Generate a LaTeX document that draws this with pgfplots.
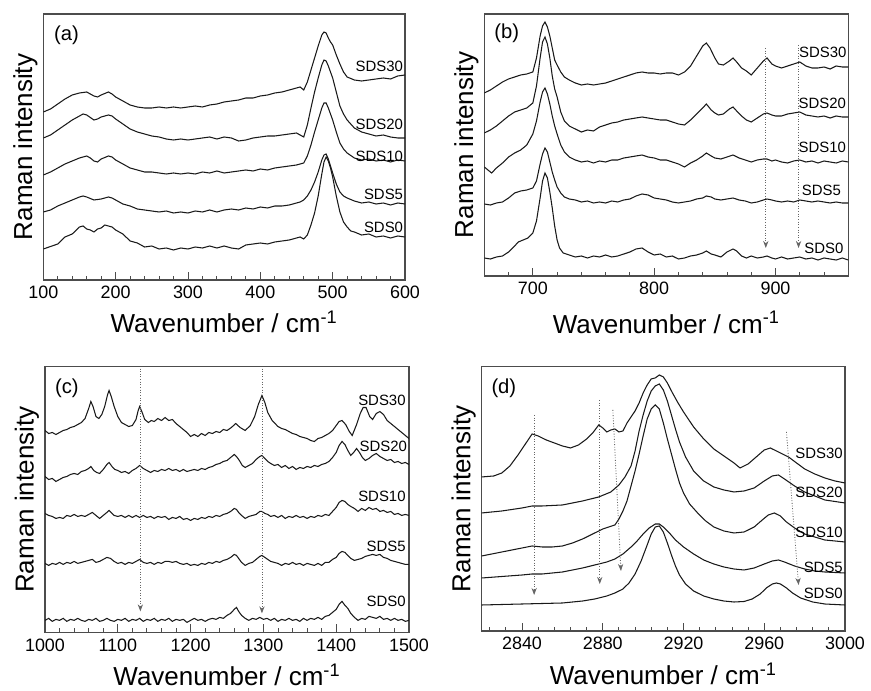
\documentclass[border=0pt]{standalone}
\usepackage{fontspec}
\setmainfont{Liberation Sans}
\usepackage{pgfplots}
\pgfplotsset{compat=1.18}
\usetikzlibrary{arrows.meta}

\pgfplotscreateplotcyclelist{ramanlist}{black!90, line width=0.6pt, mark=none\\}
\pgfplotsset{
  raman/.style={
    scale only axis,
    axis line style={draw=black!70, line width=0.6pt},
    tick style={draw=black!70, line width=0.5pt},
    xtick pos=left,
    tick align=inside,
    ytick=\empty,
    major tick length=4.5pt,
    minor tick length=2.3pt,
    ymin=0,
    ticklabel style={font=\fontsize{10.2}{12}\selectfont},
    /pgf/number format/assume math mode=true,
    /pgf/number format/1000 sep={},
    scaled x ticks=false,
    xlabel={Wavenumber / cm\textsuperscript{-1}},
    ylabel={Raman intensity},
    label style={font=\fontsize{14.8}{17}\selectfont},
    ylabel style={at={(axis description cs:-0.031,0.5)}, anchor=base},
    cycle list name=ramanlist,
  },
}
\tikzset{
  paneltag/.style={font=\fontsize{11.5}{13}\selectfont},
  lab/.style={font=\fontsize{8.5}{10}\selectfont, inner sep=0.5pt, anchor=east},
  arr/.style={densely dotted, black!60, line width=0.5pt, -{Stealth[length=4pt,width=3pt]}},
}

\begin{document}
\begin{tikzpicture}
\useasboundingbox (0,0) rectangle (17.42,13.8);

% (a)
\begin{axis}[raman, at={(0.866cm,8.2cm)}, anchor=south west,
  width=7.234cm, height=5.32cm, xmin=100, xmax=600, ymax=266,
  xtick={100,200,...,600}, minor xtick={100,120,...,600},
  xlabel style={at={(axis description cs:0.5,-0.199)}, anchor=base}]
\addplot coordinates {(100,31) (110,33.5) (120,36) (130,43) (140,46) (150,53) (155,54) (160,51) (165,50) (170,48) (175,51) (180,52) (185,55) (190,54) (195,53) (200,50) (210,46) (220,39) (230,37) (240,33) (250,34) (260,31) (270,32) (280,30) (290,32) (300,31) (310,33) (320,32) (330,34) (340,32) (350,34) (360,32) (370,31) (380,35) (390,36) (400,37) (410,36) (420,38) (430,39) (440,40) (450,42) (455,43) (460,41) (465,45) (470,55) (475,67) (480,84) (485,106) (488,118) (491,123) (494,119) (497,112) (500,103) (505,84) (510,68) (515,58) (520,53) (525,49) (530,48) (540,45) (550,46) (560,43) (570,44) (580,42) (590,44) (600,43)};
\addplot coordinates {(100,68) (110,70) (120,74) (130,77) (140,80) (150,83) (155,84) (160,83) (170,80) (180,81) (190,83) (195,82) (200,80) (210,76) (220,74) (230,71) (240,70) (250,69) (260,68) (270,69) (280,67) (290,68) (300,67) (310,69) (320,68) (330,70) (340,68) (350,70) (360,71) (370,70) (380,72) (390,71) (400,73) (410,72) (420,74) (430,74) (440,75) (450,77) (455,78) (460,80) (465,84) (470,90) (475,98) (480,108) (485,120) (488,125) (491,126) (494,121) (497,114) (500,107) (505,96) (510,88) (515,84) (520,82) (530,79) (540,77) (550,78) (560,76) (570,77) (580,75) (590,77) (600,76)};
\addplot coordinates {(100,105) (110,108) (120,112) (130,116) (140,119) (150,122) (160,124) (165,122) (170,119) (175,118) (180,121) (190,124) (195,123) (200,120) (210,116) (220,112) (230,110) (240,108) (250,108) (260,107) (270,106) (280,107) (290,106) (300,107) (310,106) (320,108) (330,107) (340,109) (350,107) (360,108) (370,109) (380,110) (390,109) (400,111) (410,110) (420,112) (430,113) (440,114) (450,115) (455,116) (460,117) (465,124) (470,135) (475,148) (480,160) (485,172) (488,177) (491,177) (494,172) (497,166) (500,160) (505,148) (510,137) (515,131) (520,127) (530,122) (540,120) (550,121) (560,119) (570,120) (580,118) (590,120) (600,119)};
\addplot coordinates {(100,142) (110,145) (120,150) (130,155) (140,160) (150,164) (155,166) (160,165) (170,160) (175,161) (180,163) (190,165) (195,164) (200,161) (210,156) (220,151) (230,148) (240,146) (250,144) (260,143) (270,141) (280,140) (290,141) (300,140) (310,141) (320,142) (330,143) (340,141) (350,143) (360,142) (370,139) (380,140) (390,142) (400,143) (410,144) (420,144) (430,145) (440,146) (450,147) (455,145) (460,143) (465,155) (470,172) (475,188) (480,202) (485,215) (488,220) (491,219) (494,214) (497,208) (500,202) (505,188) (510,174) (515,166) (520,160) (530,152) (540,148) (550,146) (560,144) (570,145) (580,143) (590,142) (600,142)};
\addplot coordinates {(100,168) (110,171) (120,176) (130,181) (140,185) (150,187) (160,188) (165,186) (170,184) (175,183) (180,185) (190,188) (195,186) (200,183) (210,179) (220,175) (230,173) (240,172) (250,172) (260,173) (270,172) (280,173) (290,172) (300,173) (310,174) (320,173) (330,175) (340,176) (350,178) (360,179) (370,180) (380,182) (390,182) (400,184) (410,185) (420,187) (430,188) (440,190) (450,192) (455,193) (460,190) (465,198) (470,210) (475,222) (480,234) (485,245) (488,248) (491,247) (494,242) (497,238) (500,235) (505,225) (510,216) (515,208) (520,203) (530,200) (540,199) (550,200) (560,201) (570,202) (580,201) (590,204) (600,205)};
\node[paneltag] at (axis cs:132,245) {(a)};
\node[lab] at (axis cs:599,214) {SDS30};
\node[lab] at (axis cs:599,156) {SDS20};
\node[lab] at (axis cs:599,124) {SDS10};
\node[lab] at (axis cs:599,86) {SDS5};
\node[lab] at (axis cs:599,53) {SDS0};
\end{axis}

% (b)
\begin{axis}[raman, at={(9.686cm,8.28cm)}, anchor=south west,
  width=7.28cm, height=5.24cm, xmin=660, xmax=960, ymax=262,
  xtick={700,800,900}, minor xtick={660,680,...,960},
  xlabel style={at={(axis description cs:0.5,-0.218)}, anchor=base}]
\addplot coordinates {(660,18) (665,17) (670,19) (675,20) (680,24) (685,30) (688,34) (692,36) (696,38) (700,43) (703,55) (706,78) (708,95) (710,103) (712,98) (714,84) (716,68) (718,50) (720,36) (722,28) (725,23) (730,21) (735,19) (740,20) (745,18) (750,20) (755,19) (760,21) (765,19) (770,20) (775,22) (780,24) (785,27) (790,28) (795,24) (800,21) (805,22) (810,19) (815,20) (820,17) (825,18) (830,20) (835,21) (840,23) (843,25) (847,22) (850,21) (855,19) (860,24) (865,27) (868,25) (872,20) (876,18) (880,20) (885,18) (890,19) (893,20) (897,18) (900,17) (905,19) (910,17) (915,18) (920,19) (925,17) (930,18) (935,16) (940,18) (945,17) (950,16) (955,18) (960,16)};
\addplot coordinates {(660,72) (665,71) (670,73) (675,74) (680,78) (685,83) (690,85) (695,86) (700,88) (703,95) (706,112) (708,122) (710,128) (712,124) (714,114) (716,104) (718,96) (720,89) (723,83) (726,79) (730,77) (735,76) (740,74) (745,75) (750,73) (755,74) (760,73) (765,75) (770,74) (775,76) (780,77) (785,80) (790,82) (795,81) (800,78) (805,77) (810,76) (815,74) (820,73) (825,74) (830,75) (835,77) (840,78) (843,80) (847,79) (850,77) (855,76) (860,77) (865,78) (870,76) (875,75) (880,73) (885,74) (890,76) (893,77) (897,76) (900,75) (905,74) (910,75) (915,74) (920,76) (925,75) (930,74) (935,75) (940,74) (945,73) (950,74) (955,73) (960,73)};
\addplot coordinates {(660,109) (663,106) (666,103) (670,108) (675,113) (680,119) (685,123) (690,126) (695,131) (700,142) (703,155) (706,174) (708,184) (710,188) (712,182) (714,172) (716,160) (718,150) (720,142) (723,131) (726,124) (730,119) (735,116) (740,114) (745,115) (750,113) (755,115) (760,114) (765,116) (770,116) (775,118) (780,119) (785,120) (790,121) (795,119) (800,118) (805,116) (810,116) (815,114) (820,112) (825,109) (830,113) (835,116) (840,120) (843,123) (847,120) (850,118) (855,117) (860,119) (865,121) (870,118) (875,116) (880,114) (885,116) (890,117) (893,117) (897,115) (900,116) (905,114) (910,113) (915,115) (920,116) (925,114) (930,115) (935,113) (940,115) (945,114) (950,113) (955,115) (960,114)};
\addplot coordinates {(660,143) (665,146) (670,150) (675,155) (680,160) (685,164) (690,166) (695,168) (700,173) (703,190) (706,218) (708,234) (710,239) (712,232) (714,218) (716,200) (718,187) (720,179) (723,164) (726,155) (730,150) (735,147) (740,144) (745,146) (750,145) (755,149) (760,151) (765,153) (770,154) (775,156) (780,157) (785,158) (790,159) (795,158) (800,157) (805,156) (810,156) (815,154) (820,152) (825,151) (830,156) (835,162) (840,168) (843,172) (847,166) (850,163) (853,161) (857,162) (862,167) (865,169) (868,165) (872,160) (876,156) (880,154) (885,158) (890,162) (893,163) (897,161) (900,160) (905,160) (910,162) (915,163) (920,164) (925,161) (930,160) (935,159) (940,160) (945,158) (950,160) (955,159) (960,159)};
\addplot coordinates {(660,183) (665,186) (670,190) (675,194) (680,197) (685,199) (690,201) (695,202) (700,204) (703,218) (706,240) (708,250) (710,254) (712,249) (714,240) (716,228) (718,216) (720,211) (723,204) (726,199) (730,196) (735,193) (740,191) (745,192) (750,191) (755,192) (760,193) (765,195) (770,197) (775,199) (780,201) (785,203) (790,204) (795,203) (800,203) (805,202) (810,203) (815,203) (820,201) (825,204) (830,210) (835,220) (840,230) (843,233) (846,228) (850,218) (853,212) (857,211) (862,215) (865,218) (868,214) (872,208) (876,205) (880,201) (885,208) (890,215) (893,218) (897,212) (900,210) (905,208) (910,210) (915,212) (920,214) (925,210) (930,208) (935,208) (940,209) (945,207) (950,210) (955,209) (960,209)};
\draw[arr] (axis cs:892,228) -- (axis cs:892,28);
\draw[arr] (axis cs:919,231) -- (axis cs:919,28);
\node[paneltag] at (axis cs:678.5,243) {(b)};
\node[lab] at (axis cs:959.5,224) {SDS30};
\node[lab] at (axis cs:959,173) {SDS20};
\node[lab] at (axis cs:959,129) {SDS10};
\node[lab] at (axis cs:955,86) {SDS5};
\node[lab] at (axis cs:957,28) {SDS0};
\end{axis}

% (c)
\begin{axis}[raman, at={(0.9cm,1.153cm)}, anchor=south west,
  width=7.28cm, height=5.31cm, xmin=1000, xmax=1500, ymax=265.7,
  xtick={1000,1100,...,1500}, minor xtick={1000,1020,...,1500},
  xlabel style={at={(axis description cs:0.5,-0.2)}, anchor=base}]
\addplot coordinates {(1000,12) (1005,14) (1010,11) (1015,13) (1020,12) (1025,14) (1030,11) (1035,13) (1040,12) (1045,14) (1050,12) (1055,11) (1060,13) (1065,12) (1070,14) (1075,11) (1080,12) (1085,14) (1090,12) (1095,11) (1100,13) (1105,12) (1110,14) (1115,11) (1120,13) (1125,12) (1130,14) (1135,11) (1140,13) (1145,12) (1150,14) (1155,11) (1160,13) (1165,12) (1170,14) (1175,11) (1180,13) (1185,12) (1190,13) (1195,10) (1200,12) (1205,14) (1210,12) (1215,13) (1220,11) (1225,13) (1230,14) (1235,13) (1240,15) (1245,14) (1250,17) (1255,19) (1260,23) (1263,25) (1266,21) (1270,17) (1275,14) (1280,12) (1285,14) (1290,13) (1295,15) (1300,13) (1305,14) (1310,12) (1315,14) (1320,11) (1325,13) (1330,12) (1335,14) (1340,12) (1345,13) (1350,11) (1355,14) (1360,12) (1365,14) (1370,13) (1375,15) (1380,13) (1385,16) (1390,17) (1395,20) (1400,23) (1404,28) (1408,31) (1412,27) (1416,24) (1420,19) (1425,15) (1430,12) (1435,14) (1440,13) (1445,16) (1450,15) (1455,14) (1460,16) (1465,13) (1470,14) (1475,12) (1480,14) (1485,12) (1490,13) (1495,11) (1500,12)};
\addplot coordinates {(1000,69) (1005,67) (1010,69) (1015,68) (1020,70) (1025,68) (1030,70) (1035,69) (1040,71) (1045,69) (1050,70) (1055,71) (1060,72) (1065,73) (1070,70) (1075,71) (1080,73) (1085,75) (1090,74) (1095,71) (1100,69) (1105,70) (1110,68) (1115,70) (1120,69) (1125,71) (1130,73) (1135,70) (1140,69) (1145,70) (1150,68) (1155,70) (1160,69) (1165,71) (1170,71) (1175,70) (1180,71) (1185,69) (1190,68) (1195,69) (1200,67) (1205,68) (1210,67) (1215,69) (1220,68) (1225,70) (1230,69) (1235,71) (1240,70) (1245,72) (1250,73) (1255,75) (1260,78) (1263,77) (1266,74) (1270,70) (1275,67) (1280,69) (1285,70) (1290,73) (1295,76) (1298,77) (1302,75) (1306,73) (1310,71) (1315,70) (1320,69) (1325,67) (1330,69) (1335,68) (1340,70) (1345,68) (1350,69) (1355,67) (1360,69) (1365,68) (1370,67) (1375,69) (1380,67) (1385,70) (1390,70) (1395,73) (1400,75) (1404,79) (1408,81) (1412,80) (1416,77) (1420,74) (1425,72) (1430,73) (1435,74) (1440,76) (1445,77) (1450,78) (1455,77) (1460,78) (1465,75) (1470,74) (1475,72) (1480,71) (1485,70) (1490,69) (1495,68) (1500,68)};
\addplot coordinates {(1000,119) (1005,117) (1010,116) (1015,114) (1020,115) (1025,114) (1030,117) (1035,116) (1040,118) (1045,116) (1050,117) (1055,116) (1060,118) (1065,120) (1070,117) (1075,114) (1080,117) (1085,120) (1088,122) (1092,119) (1095,117) (1100,116) (1105,117) (1110,115) (1115,117) (1120,115) (1125,117) (1130,115) (1135,117) (1140,115) (1145,116) (1150,114) (1155,116) (1160,115) (1165,116) (1170,113) (1175,115) (1180,114) (1185,116) (1190,113) (1195,114) (1200,112) (1205,114) (1210,113) (1215,115) (1220,114) (1225,116) (1230,115) (1235,117) (1240,116) (1245,118) (1250,119) (1255,121) (1260,124) (1263,123) (1266,120) (1270,117) (1275,114) (1280,116) (1285,117) (1290,118) (1295,121) (1298,121) (1302,119) (1306,118) (1310,116) (1315,117) (1320,115) (1325,117) (1330,114) (1335,116) (1340,115) (1345,117) (1350,115) (1355,116) (1360,114) (1365,116) (1370,115) (1375,117) (1380,116) (1385,118) (1390,117) (1395,121) (1400,125) (1404,130) (1408,132) (1412,131) (1416,128) (1420,126) (1425,124) (1430,121) (1435,124) (1440,122) (1445,125) (1450,123) (1455,124) (1460,121) (1465,122) (1470,120) (1475,121) (1480,118) (1485,119) (1490,117) (1495,118) (1500,117)};
\addplot coordinates {(1000,156) (1005,153) (1010,154) (1015,151) (1020,153) (1025,155) (1030,156) (1035,158) (1040,159) (1045,158) (1050,161) (1055,162) (1060,164) (1063,166) (1067,162) (1071,160) (1075,159) (1080,163) (1085,168) (1088,170) (1092,166) (1096,163) (1100,162) (1105,160) (1110,161) (1115,159) (1120,162) (1125,164) (1130,167) (1135,164) (1140,162) (1145,160) (1150,162) (1155,161) (1160,163) (1165,162) (1170,164) (1175,162) (1180,163) (1185,161) (1190,163) (1195,161) (1200,162) (1205,163) (1210,162) (1215,164) (1220,163) (1225,165) (1230,166) (1235,168) (1240,169) (1245,171) (1250,172) (1255,175) (1260,178) (1263,176) (1267,172) (1271,167) (1275,165) (1280,167) (1285,169) (1290,173) (1295,176) (1298,177) (1302,174) (1306,171) (1310,169) (1315,167) (1320,168) (1325,165) (1330,167) (1335,164) (1340,166) (1345,163) (1350,165) (1355,164) (1360,166) (1365,165) (1370,167) (1375,166) (1380,168) (1385,169) (1390,171) (1395,175) (1400,180) (1404,187) (1408,191) (1412,188) (1416,182) (1420,177) (1424,180) (1428,184) (1432,180) (1436,175) (1440,172) (1445,174) (1450,177) (1455,179) (1460,176) (1465,174) (1470,172) (1475,173) (1480,170) (1485,171) (1490,169) (1495,170) (1500,168)};
\addplot coordinates {(1000,202) (1005,199) (1010,200) (1015,198) (1020,200) (1025,202) (1030,203) (1035,205) (1040,206) (1045,208) (1050,210) (1055,214) (1060,224) (1063,231) (1066,226) (1070,216) (1074,214) (1078,218) (1082,226) (1086,238) (1088,242) (1091,236) (1095,226) (1100,216) (1105,210) (1110,208) (1115,206) (1120,207) (1125,213) (1128,222) (1130,226) (1133,221) (1137,213) (1142,210) (1146,212) (1150,211) (1155,214) (1160,212) (1165,215) (1170,212) (1175,213) (1180,209) (1185,206) (1190,203) (1195,200) (1200,196) (1205,198) (1210,196) (1215,199) (1220,197) (1225,200) (1230,199) (1235,201) (1240,200) (1245,203) (1250,202) (1256,205) (1262,209) (1268,205) (1275,202) (1282,207) (1288,216) (1293,228) (1298,237) (1302,230) (1306,220) (1312,212) (1316,209) (1320,206) (1325,204) (1330,203) (1335,201) (1340,199) (1345,198) (1350,196) (1355,195) (1360,194) (1365,192) (1370,191) (1375,194) (1380,195) (1385,197) (1390,199) (1395,202) (1398,205) (1404,211) (1408,212) (1413,208) (1418,201) (1422,197) (1428,208) (1433,219) (1437,225) (1441,225) (1446,216) (1450,213) (1455,219) (1460,221) (1465,218) (1470,212) (1475,209) (1480,206) (1485,203) (1490,200) (1495,197) (1500,194)};
\draw[arr] (axis cs:1131,264) -- (axis cs:1131,21);
\draw[arr] (axis cs:1298,264) -- (axis cs:1298,19);
\node[paneltag] at (axis cs:1030,244) {(c)};
\node[lab] at (axis cs:1497,232) {SDS30};
\node[lab] at (axis cs:1499,186) {SDS20};
\node[lab] at (axis cs:1497,136) {SDS10};
\node[lab] at (axis cs:1497,86) {SDS5};
\node[lab] at (axis cs:1497,31) {SDS0};
\end{axis}

% (d)
\begin{axis}[raman, at={(9.633cm,1.18cm)}, anchor=south west,
  width=7.267cm, height=5.287cm, xmin=2820, xmax=3000, ymax=264.3,
  xtick={2840,2880,...,3000}, minor xtick={2824,2832,...,3000},
  xlabel style={at={(axis description cs:0.5,-0.204)}, anchor=base}]
\addplot coordinates {(2820,26) (2830,26.5) (2840,27) (2850,27.5) (2860,28) (2870,30) (2876,32) (2882,35) (2886,38) (2890,42) (2893,48) (2896,57) (2899,70) (2902,86) (2904,97) (2906,104) (2908,105) (2910,99) (2912,88) (2914,76) (2916,65) (2918,56) (2921,47) (2925,40) (2930,35) (2935,32) (2940,30) (2945,29) (2950,29.5) (2954,32) (2958,37) (2961,43) (2964,47) (2966,48) (2968,47) (2971,43) (2974,38) (2978,33) (2984,29) (2990,27) (3000,26)};
\addplot coordinates {(2820,53) (2830,54.5) (2840,56) (2845,57) (2850,57) (2860,59) (2870,63) (2878,67) (2882,69) (2886,72) (2890,77) (2894,84) (2897,90) (2900,97) (2903,103) (2906,107) (2908,107) (2910,104) (2913,98) (2916,91) (2920,84) (2925,77) (2930,71) (2935,67) (2940,64) (2945,62) (2950,61) (2955,63) (2960,67) (2964,70) (2967,71) (2970,69) (2975,65) (2980,62) (2985,60) (2990,59) (3000,58)};
\addplot coordinates {(2820,75) (2825,77) (2830,79) (2835,81) (2840,83) (2845,85) (2850,84) (2855,84) (2860,85) (2865,88) (2870,92) (2875,97) (2880,102) (2883,104) (2886,106) (2888,112) (2890,120) (2892,130) (2894,145) (2896,160) (2898,177) (2900,195) (2902,212) (2904,222) (2906,226) (2908,222) (2910,208) (2912,192) (2914,177) (2916,162) (2918,148) (2920,138) (2923,127) (2927,118) (2931,110) (2935,104) (2940,100) (2945,98) (2950,99) (2955,104) (2959,111) (2962,116) (2965,118) (2968,115) (2971,109) (2975,103) (2980,97) (2985,94) (2990,91) (3000,89)};
\addplot coordinates {(2820,118) (2830,120) (2840,123) (2845,125) (2850,125) (2860,126) (2870,130) (2878,134) (2884,139) (2888,146) (2891,154) (2894,165) (2896,180) (2898,200) (2900,216) (2902,230) (2904,240) (2906,245) (2908,247) (2910,241) (2912,230) (2914,216) (2916,202) (2918,189) (2921,174) (2925,160) (2930,150) (2935,144) (2940,141) (2945,139) (2950,140) (2955,143) (2960,150) (2964,155) (2967,156) (2970,152) (2975,145) (2980,139) (2985,135) (2990,131) (3000,128)};
\addplot coordinates {(2820,154) (2826,155) (2830,158) (2834,165) (2838,176) (2842,188) (2845,197) (2848,195) (2852,191) (2856,188) (2860,185) (2864,183) (2868,186) (2872,192) (2875,198) (2878,206) (2880,203) (2882,199) (2884,201) (2886,202) (2888,199) (2890,200) (2892,208) (2894,214) (2896,220) (2898,228) (2900,238) (2902,246) (2904,252) (2906,253) (2908,256) (2910,254) (2912,248) (2914,240) (2917,229) (2920,219) (2925,204) (2930,192) (2935,182) (2940,175) (2945,168) (2948,163) (2952,167) (2956,174) (2960,181) (2963,183) (2966,180) (2969,177) (2972,174) (2976,168) (2980,162) (2985,157) (2990,153) (2995,150) (3000,148)};
\draw[arr] (axis cs:2846,216) -- (axis cs:2846,36);
\draw[arr] (axis cs:2878.5,231) -- (axis cs:2878.5,47);
\draw[arr] (axis cs:2885,221) -- (axis cs:2889,60);
\draw[arr] (axis cs:2971,199) -- (axis cs:2977,46);
\node[paneltag] at (axis cs:2831,243) {(d)};
\node[lab] at (axis cs:2999.5,178) {SDS30};
\node[lab] at (axis cs:2999.5,139) {SDS20};
\node[lab] at (axis cs:2999.5,99) {SDS10};
\node[lab] at (axis cs:2999.5,64) {SDS5};
\node[lab] at (axis cs:2999.5,38) {SDS0};
\end{axis}
\end{tikzpicture}
\end{document}
